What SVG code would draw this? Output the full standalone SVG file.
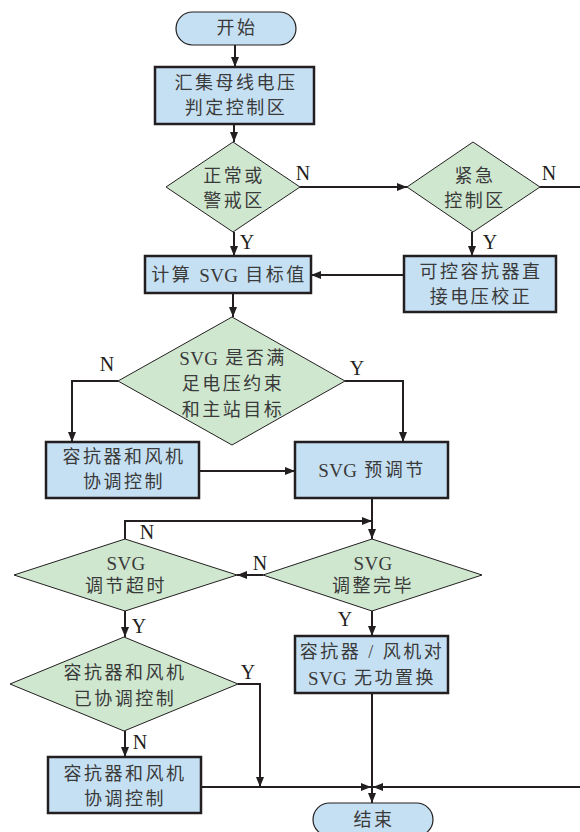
<svg xmlns="http://www.w3.org/2000/svg" width="580" height="832" viewBox="0 0 580 832">
<defs>
<marker id="ah" markerUnits="userSpaceOnUse" markerWidth="10" markerHeight="8" refX="10" refY="4" orient="auto">
<path d="M0,0 L10,4 L0,8 z" fill="#231f20"/>
</marker>
<style>
.box{fill:#c6e0f3;stroke:#231f20;stroke-width:2.5}
.term{fill:#c6e0f3;stroke:#231f20;stroke-width:1.2}
.dia{fill:#cfe7cf;stroke:#231f20;stroke-width:1}
.t{font-family:"Liberation Serif","Noto Sans CJK SC",serif;font-size:18px;fill:#3a3a3a;text-anchor:middle;dominant-baseline:central;letter-spacing:2.5px}
.l{letter-spacing:0.3px;font-size:19px}
.lb{font-family:"Liberation Serif",serif;font-size:20px;fill:#231f20;text-anchor:middle;dominant-baseline:central}
.c{fill:none;stroke:#231f20;stroke-width:2}
.ca{fill:none;stroke:#231f20;stroke-width:2;marker-end:url(#ah)}
</style>
</defs>
<rect width="580" height="832" fill="#ffffff"/>
<g id="connectors">
<path class="ca" d="M235,45 L235,67"/>
<path class="ca" d="M234,124 L234,142"/>
<path class="ca" d="M300,187 L407,187"/>
<path class="c" d="M540,187 L580,187"/>
<path class="ca" d="M234,232 L234,256"/>
<path class="ca" d="M472,232 L472,256"/>
<path class="ca" d="M404,275 L311,275"/>
<path class="ca" d="M233,293 L233,317"/>
<path class="ca" d="M118,381 L72,381 L72,442"/>
<path class="ca" d="M345,381 L403,381 L403,442"/>
<path class="ca" d="M199,471 L295,471"/>
<path class="ca" d="M372,498 L372,539"/>
<path class="ca" d="M125,539 L125,521 L372,521"/>
<path class="ca" d="M263,575 L237,575"/>
<path class="ca" d="M125,611 L125,637"/>
<path class="ca" d="M372,611 L372,636"/>
<path class="ca" d="M238,684 L260,684 L260,787"/>
<path class="ca" d="M125,731 L125,757"/>
<path class="ca" d="M201,787 L371,787"/>
<path class="ca" d="M580,787 L373,787"/>
<path class="ca" d="M372,693 L372,803"/>
</g>
<g id="start">
<rect class="term" x="176" y="12" width="120" height="33" rx="16.5"/>
<text class="t" x="237" y="28">开始</text>
</g>
<g id="collect">
<rect class="box" x="155" y="67" width="159" height="57"/>
<text class="t" x="236" y="83">汇集母线电压</text>
<text class="t" x="236" y="108">判定控制区</text>
</g>
<g id="normal">
<polygon class="dia" points="233,142 300,187 233,232 166,187"/>
<text class="t" x="234" y="176">正常或</text>
<text class="t" x="234" y="201">警戒区</text>
</g>
<g id="emergency">
<polygon class="dia" points="473,142 540,187 473,232 407,187"/>
<text class="t" x="475" y="176">紧急</text>
<text class="t" x="475" y="201">控制区</text>
</g>
<g id="calc">
<rect class="box" x="145" y="256" width="166" height="37"/>
<text class="t" x="229" y="275">计算 <tspan class="l">SVG</tspan> 目标值</text>
</g>
<g id="direct">
<rect class="box" x="404" y="256" width="152" height="56"/>
<text class="t" x="481" y="272">可控容抗器直</text>
<text class="t" x="481" y="297">接电压校正</text>
</g>
<g id="satisfy">
<polygon class="dia" points="232,317 345,381 232,445 118,381"/>
<text class="t" x="233" y="358"><tspan class="l">SVG</tspan> 是否满</text>
<text class="t" x="233" y="384">足电压约束</text>
<text class="t" x="233" y="410">和主站目标</text>
</g>
<g id="coord1">
<rect class="box" x="46" y="442" width="153" height="56"/>
<text class="t" x="124" y="457">容抗器和风机</text>
<text class="t" x="124" y="482">协调控制</text>
</g>
<g id="preadj">
<rect class="box" x="295" y="442" width="153" height="56"/>
<text class="t" x="372" y="470"><tspan class="l">SVG</tspan> 预调节</text>
</g>
<g id="timeout">
<polygon class="dia" points="125,539 237,575 125,611 14,575"/>
<text class="t" x="126" y="563"><tspan class="l">SVG</tspan></text>
<text class="t" x="126" y="586">调节超时</text>
</g>
<g id="done">
<polygon class="dia" points="372,539 482,575 372,611 263,575"/>
<text class="t" x="373" y="563"><tspan class="l">SVG</tspan></text>
<text class="t" x="373" y="586">调整完毕</text>
</g>
<g id="replace">
<rect class="box" x="295" y="636" width="153" height="57"/>
<text class="t" x="372" y="652">容抗器 / 风机对</text>
<text class="t" x="372" y="678"><tspan class="l">SVG</tspan> 无功置换</text>
</g>
<g id="coorded">
<polygon class="dia" points="124,637 238,684 124,731 10,684"/>
<text class="t" x="125" y="673">容抗器和风机</text>
<text class="t" x="125" y="699">已协调控制</text>
</g>
<g id="coord2">
<rect class="box" x="48" y="757" width="153" height="56"/>
<text class="t" x="125" y="774">容抗器和风机</text>
<text class="t" x="125" y="799">协调控制</text>
</g>
<g id="end">
<rect class="term" x="313" y="803" width="120" height="33" rx="16.5"/>
<text class="t" x="374" y="820">结束</text>
</g>
<g id="labels">
<text class="lb" x="303" y="173">N</text>
<text class="lb" x="549" y="173">N</text>
<text class="lb" x="247" y="242">Y</text>
<text class="lb" x="490" y="242">Y</text>
<text class="lb" x="107" y="364">N</text>
<text class="lb" x="357" y="368">Y</text>
<text class="lb" x="147" y="532">N</text>
<text class="lb" x="260" y="563">N</text>
<text class="lb" x="139" y="626">Y</text>
<text class="lb" x="345" y="619">Y</text>
<text class="lb" x="248" y="672">Y</text>
<text class="lb" x="140" y="742">N</text>
</g>
</svg>
